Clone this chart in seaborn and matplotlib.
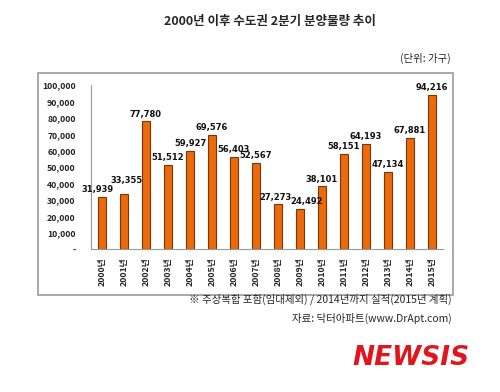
import matplotlib
matplotlib.use("Agg")
import matplotlib.pyplot as plt
import seaborn as sns
import pandas as pd
from matplotlib.patches import Rectangle

# Data
years = ["2000년", "2001년", "2002년", "2003년", "2004년", "2005년", "2006년", "2007년",
         "2008년", "2009년", "2010년", "2011년", "2012년", "2013년", "2014년", "2015년"]
supply = [31939, 33355, 77780, 51512, 59927, 69576, 56403, 52567,
          27273, 24492, 38101, 58151, 64193, 47134, 67881, 94216]
y_ticks = [0, 10000, 20000, 30000, 40000, 50000, 60000, 70000, 80000, 90000, 100000]

title = "2000년 이후 수도권 2분기 분양물량 추이"
unit = "(단위: 가구)"
note = "※ 주상복합 포함(임대제외) / 2014년까지 실적(2015년 계획)"
source = "자료: 닥터아파트(www.DrApt.com)"

sns.set_style("white")
plt.rcParams["font.family"] = ["Noto Sans CJK KR", "DejaVu Sans"]

df = pd.DataFrame({"year": years, "supply": supply})

fig = plt.figure(figsize=(5, 3.92), dpi=100)
ax = fig.add_axes([0.182, 0.365, 0.704, 0.418])

sns.barplot(data=df, x="year", y="supply", color="#EA6A0C", width=0.38,
            edgecolor="#7E3404", linewidth=0.8, saturation=1, ax=ax)

# value labels; a few are nudged sideways like in the original
nudge = {0: -0.2, 1: 0.1, 8: -0.1, 9: 0.3}
lift = {0: 0, 1: 4000}
for i, v in enumerate(supply):
    ax.text(i + nudge.get(i, 0), v + 1500 + lift.get(i, 0), f"{v:,}", ha="center",
            va="bottom", fontsize=6, fontweight="bold", color="#111111",
            family="DejaVu Sans")

ax.set_ylim(0, 100000)
ax.set_xlim(-0.5, len(years) - 0.5)
ax.set_yticks(y_ticks)
ax.set_yticklabels(["-"] + [f"{t:,}" for t in y_ticks[1:]], fontsize=6.3, fontweight="bold")
ax.set_xticks(range(len(years)))
ax.set_xticklabels(years, rotation=90, fontsize=6.3, fontweight="bold")
ax.set_xlabel("")
ax.set_ylabel("")
for s in ["top", "right"]:
    ax.spines[s].set_visible(False)
for s in ["left", "bottom"]:
    ax.spines[s].set_color("#999999")
    ax.spines[s].set_linewidth(0.8)
ax.tick_params(axis="y", length=3, color="#999999", pad=8)
ax.tick_params(axis="x", length=0, pad=6)
# tick marks between categories on the x axis
ax.set_xticks([i - 0.5 for i in range(len(years) + 1)], minor=True)
ax.tick_params(axis="x", which="minor", length=3, color="#999999")

# outer frame around the chart
fig.patches.append(Rectangle((0.076, 0.247), 0.83, 0.566, transform=fig.transFigure,
                             fill=False, edgecolor="#999999", linewidth=1.2))

fig.text(0.54, 0.944, title, ha="center", va="center", fontsize=9, fontweight="bold")
fig.text(0.902, 0.852, unit, ha="right", va="center", fontsize=7.5)
fig.text(0.904, 0.236, note, ha="right", va="center", fontsize=7.5)
fig.text(0.904, 0.188, source, ha="right", va="center", fontsize=7.5)
fig.text(0.94, 0.088, "NEWSIS", ha="right", va="center", fontsize=19, fontweight="heavy",
         fontstyle="italic", color="#E2151C", family="DejaVu Sans")

fig.savefig("out.png", dpi=100)
